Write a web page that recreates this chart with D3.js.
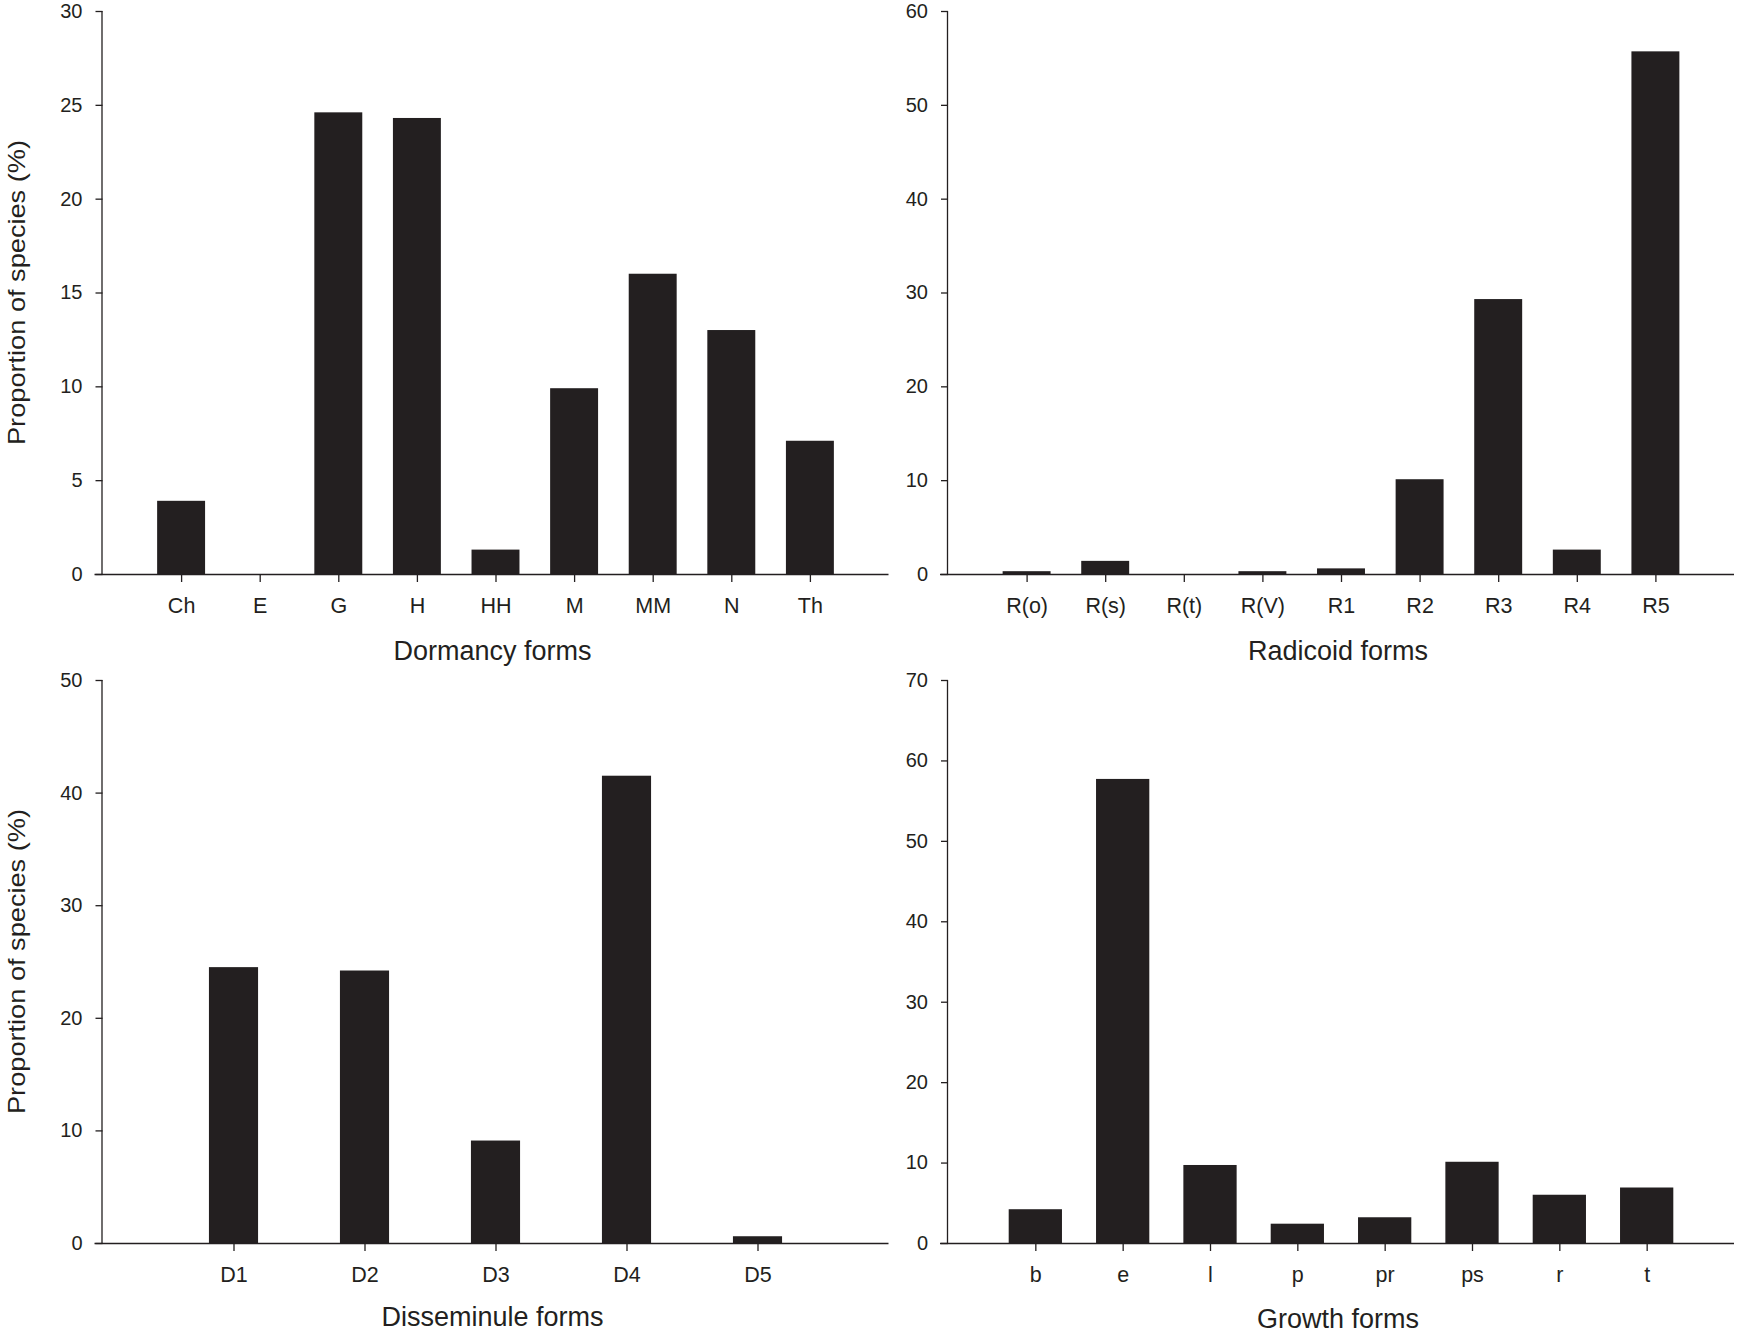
<!DOCTYPE html>
<html>
<head>
<meta charset="utf-8">
<script src="https://cdn.jsdelivr.net/npm/d3@7"></script>
<style>
html, body { margin: 0; padding: 0; background: #fff; }
svg { display: block; }
text { font-family: "Liberation Sans", Arial, sans-serif; fill: #231f20; }
</style>
</head>
<body>
<svg id="chart" width="1739" height="1336"></svg>
<script>
// ---- Data ----
const dormancyCategories = ["Ch", "E", "G", "H", "HH", "M", "MM", "N", "Th"];
const dormancyValues     = [3.9, 0, 24.6, 24.3, 1.3, 9.9, 16.0, 13.0, 7.1];
const dormancyTicks      = [0, 5, 10, 15, 20, 25, 30];

const radicoidCategories = ["R(o)", "R(s)", "R(t)", "R(V)", "R1", "R2", "R3", "R4", "R5"];
const radicoidValues     = [0.3, 1.4, 0, 0.3, 0.6, 10.1, 29.3, 2.6, 55.7];
const radicoidTicks      = [0, 10, 20, 30, 40, 50, 60];

const disseminuleCategories = ["D1", "D2", "D3", "D4", "D5"];
const disseminuleValues     = [24.5, 24.2, 9.1, 41.5, 0.6];
const disseminuleTicks      = [0, 10, 20, 30, 40, 50];

const growthCategories = ["b", "e", "l", "p", "pr", "ps", "r", "t"];
const growthValues     = [4.2, 57.7, 9.7, 2.4, 3.2, 10.1, 6.0, 6.9];
const growthTicks      = [0, 10, 20, 30, 40, 50, 60, 70];

const yLabel = "Proportion of species (%)";

// ---- Layout ----
const ink = "#231f20";
const svg = d3.select("#chart");

const panels = [
  { cats: dormancyCategories, vals: dormancyValues, ticks: dormancyTicks, title: "Dormancy forms",
    x0: 102.5, top: 11, bottom: 574, span: 786, barW: 0.61, ylab: true, titleY: 660 },
  { cats: radicoidCategories, vals: radicoidValues, ticks: radicoidTicks, title: "Radicoid forms",
    x0: 948, top: 11, bottom: 574, span: 786, barW: 0.61, ylab: false, titleY: 660 },
  { cats: disseminuleCategories, vals: disseminuleValues, ticks: disseminuleTicks, title: "Disseminule forms",
    x0: 102.5, top: 680, bottom: 1243, span: 786, barW: 0.375, ylab: true, titleY: 1326 },
  { cats: growthCategories, vals: growthValues, ticks: growthTicks, title: "Growth forms",
    x0: 948, top: 680, bottom: 1243, span: 786, barW: 0.61, ylab: false, titleY: 1328 }
];

panels.forEach(p => {
  const n = p.cats.length;
  const x = d3.scaleLinear().domain([0, n + 1]).range([p.x0, p.x0 + p.span]);
  const y = d3.scaleLinear().domain([0, d3.max(p.ticks)]).range([p.bottom, p.top]);
  const g = svg.append("g");

  // bars
  g.selectAll("rect.bar")
    .data(p.vals)
    .join("rect")
    .attr("class", "bar")
    .attr("x", (d, i) => x(i + 1 - p.barW / 2))
    .attr("width", x(p.barW) - x(0))
    .attr("y", d => y(d))
    .attr("height", d => y(0) - y(d))
    .attr("fill", ink);

  // y axis
  const yAxis = d3.axisLeft(y).tickValues(p.ticks).tickSize(7).tickPadding(13).tickFormat(d3.format("d"));
  const ya = g.append("g").attr("transform", `translate(${p.x0},0)`).call(yAxis);
  ya.select(".domain").attr("stroke", ink).attr("stroke-width", 1.3).attr("d", `M-0.5,${p.top}V${p.bottom}`);
  ya.selectAll(".tick line").attr("stroke", ink).attr("stroke-width", 1.3);
  ya.selectAll(".tick text").attr("font-size", 20).attr("font-family", "Liberation Sans, Arial, sans-serif").attr("fill", ink);

  // x axis
  const xAxis = d3.axisBottom(x).tickValues(d3.range(1, n + 1)).tickSize(8).tickPadding(0)
    .tickFormat(d => p.cats[d - 1]);
  const xa = g.append("g").attr("transform", `translate(0,${p.bottom})`).call(xAxis);
  xa.select(".domain").attr("stroke", ink).attr("stroke-width", 1.3)
    .attr("d", `M${p.x0 - 8},0.5H${p.x0 + p.span}`);
  xa.selectAll(".tick line").attr("stroke", ink).attr("stroke-width", 1.3);
  xa.selectAll(".tick text").attr("font-size", 21.5).attr("font-family", "Liberation Sans, Arial, sans-serif")
    .attr("fill", ink).attr("y", 39).attr("dy", null);

  // x title
  g.append("text")
    .attr("x", p.x0 + p.span / 2 - 3)
    .attr("y", p.titleY)
    .attr("text-anchor", "middle")
    .attr("font-size", 27)
    .text(p.title);

  // y title
  if (p.ylab) {
    const cy = (p.top + p.bottom) / 2;
    g.append("text")
      .attr("transform", `translate(25,${cy}) rotate(-90)`)
      .attr("text-anchor", "middle")
      .attr("font-size", 24)
      .attr("textLength", 305)
      .attr("lengthAdjust", "spacingAndGlyphs")
      .text(yLabel);
  }
});
</script>
</body>
</html>
